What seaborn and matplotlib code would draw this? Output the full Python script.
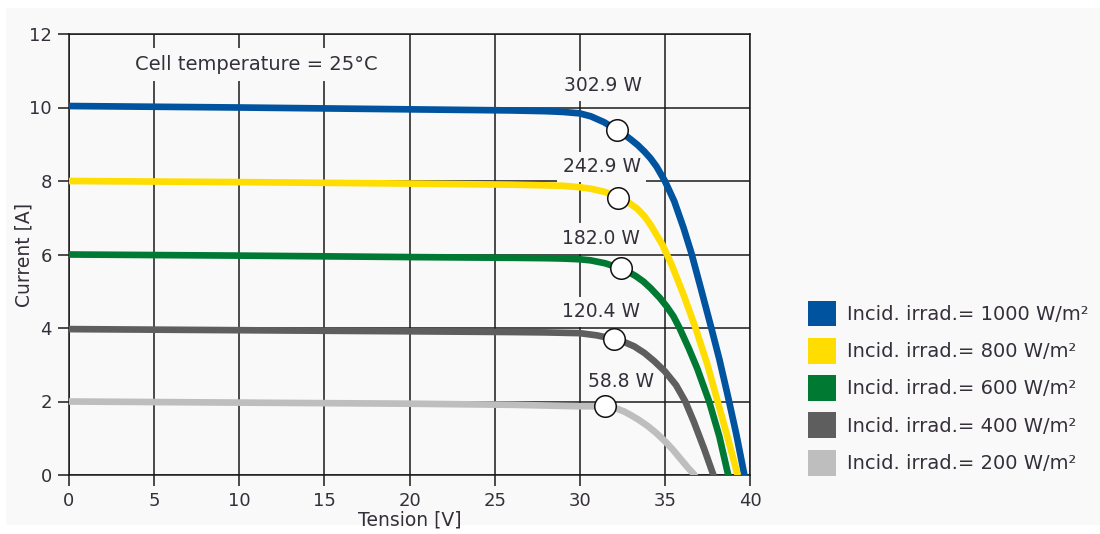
import pandas as pd
import matplotlib
matplotlib.use("Agg")
import matplotlib.pyplot as plt
import seaborn as sns
from matplotlib.patches import Patch, Rectangle

# I-V curves of the module at 25 °C for several irradiance levels
irradiance = ["1000", "800", "600", "400", "200"]
colors = ["#00539f", "#ffdd00", "#007a33", "#5e5e5e", "#bebebe"]

v_1000 = [0, 10, 20, 26, 28, 29, 30, 30.65, 31.43, 32.2, 32.6, 33, 33.4, 33.8, 34.15, 34.5,
          35.0, 35.55, 36.1, 36.55, 37.1, 37.7, 38.2, 38.7, 39.2, 39.67]
i_1000 = [10.04, 10.0, 9.95, 9.92, 9.9, 9.88, 9.84, 9.76, 9.6, 9.38, 9.27, 9.13, 8.98, 8.8, 8.62,
          8.4, 8.0, 7.45, 6.72, 6.05, 5.1, 4.05, 3.15, 2.15, 1.1, 0.0]

v_800 = [0, 10, 20, 26, 28, 29, 30, 30.65, 31.5, 32.27, 32.85, 33.39, 33.8, 34.17, 34.85,
         35.4, 36.1, 36.8, 37.5, 38.1, 38.7, 39.27]
i_800 = [8.0, 7.97, 7.93, 7.9, 7.88, 7.87, 7.83, 7.79, 7.7, 7.54, 7.42, 7.24, 7.04, 6.8, 6.27,
         5.72, 4.9, 4.0, 3.0, 2.0, 1.0, 0.0]

v_600 = [0, 10, 20, 26, 28, 29, 30, 30.65, 31.5, 32.4, 32.85, 33.3, 33.75, 34.17, 34.7, 35.1,
         35.5, 35.86, 36.4, 36.9, 37.6, 38.2, 38.72]
i_600 = [6.0, 5.97, 5.93, 5.91, 5.9, 5.89, 5.87, 5.84, 5.76, 5.62, 5.53, 5.41, 5.26, 5.08, 4.82,
         4.59, 4.32, 4.0, 3.45, 2.9, 2.0, 1.05, 0.0]

v_400 = [0, 10, 20, 26, 28, 29, 30, 31, 32, 32.6, 33.2, 33.8, 34.37, 35.0, 35.65, 36.2,
         36.7, 37.3, 37.85]
i_400 = [3.97, 3.94, 3.91, 3.89, 3.88, 3.87, 3.86, 3.8, 3.7, 3.62, 3.5, 3.32, 3.1, 2.82, 2.45,
         2.0, 1.45, 0.72, 0.0]

v_200 = [0, 10, 20, 26, 28, 29, 30, 31, 31.5, 32.2, 32.6, 33.0, 33.5, 34.0, 34.5, 35.0,
         35.45, 35.9, 36.35, 36.75]
i_200 = [2.0, 1.97, 1.94, 1.91, 1.89, 1.88, 1.87, 1.87, 1.86, 1.8, 1.73, 1.63, 1.49, 1.33,
         1.14, 0.92, 0.7, 0.45, 0.2, 0.0]

# maximum power points
mpp_v = [32.2, 32.27, 32.4, 32.0, 31.5]
mpp_i = [9.38, 7.54, 5.62, 3.70, 1.88]
mpp_label = ["302.9 W", "242.9 W", "182.0 W", "120.4 W", "58.8 W"]

x_ticks = [0, 5, 10, 15, 20, 25, 30, 35, 40]
y_ticks = [0, 2, 4, 6, 8, 10, 12]

curves = [(v_1000, i_1000), (v_800, i_800), (v_600, i_600), (v_400, i_400), (v_200, i_200)]
frames = []
for irr, (v, i) in zip(irradiance, curves):
    frames.append(pd.DataFrame({"V": v, "I": i, "irr": irr}))
df = pd.concat(frames, ignore_index=True)
mpp = pd.DataFrame({"V": mpp_v, "I": mpp_i, "label": mpp_label})

sns.set_theme(style="white")
bg = "#f9f9f9"
txt = "#352f3a"
plt.rcParams["font.family"] = ["DejaVu Sans"]
plt.rcParams["text.color"] = txt
plt.rcParams["axes.labelcolor"] = txt
plt.rcParams["xtick.color"] = txt
plt.rcParams["ytick.color"] = txt

fig = plt.figure(figsize=(11, 5.34), dpi=100, facecolor="white")
fig.patches.append(Rectangle((6 / 1100, 9 / 534), 1 - 6 / 1100, 517 / 534,
                             transform=fig.transFigure, facecolor=bg, edgecolor="none", zorder=-10))
ax = fig.add_axes([69 / 1100, 59 / 534, 681 / 1100, 441 / 534])
ax.set_facecolor(bg)

sns.lineplot(data=df, x="V", y="I", hue="irr", palette=dict(zip(irradiance, colors)),
             sort=False, estimator=None, linewidth=4.8, legend=False, ax=ax, zorder=3,
             solid_joinstyle="round")
sns.scatterplot(data=mpp, x="V", y="I", s=240, color="white", edgecolor="#111111",
                linewidth=1.1, ax=ax, zorder=5, legend=False)

offsets = [(-10, 32), (-12, 22.5), (-14, 21.5), (-9.5, 19.5), (11.5, 17.5)]
for (_, row), off in zip(mpp.iterrows(), offsets):
    ax.annotate(row["label"], (row["V"], row["I"]), xytext=off, textcoords="offset points",
                ha="center", va="center", fontsize=13.5, zorder=2.5,
                bbox=dict(boxstyle="square,pad=0.3", facecolor=bg, edgecolor="none"))

ax.text(11.0, 11.17, "Cell temperature = 25°C", ha="center", va="center", fontsize=14,
        zorder=2.5, bbox=dict(boxstyle="square,pad=0.35", facecolor=bg, edgecolor="none"))

ax.set_xlim(0, 40)
ax.set_ylim(0, 12)
ax.set_xticks(x_ticks)
ax.set_yticks(y_ticks)
ax.grid(True, color="#1a1a1a", linewidth=1.1)
ax.set_axisbelow(True)
for s in ax.spines.values():
    s.set_color("#1a1a1a")
    s.set_linewidth(1.1)
ax.tick_params(axis="both", length=8, width=1.1, color="#1a1a1a", labelsize=13,
               pad=4.5, direction="out", left=True, bottom=True)
ax.set_xlabel("Tension [V]", fontsize=13.5)
ax.set_ylabel("Current [A]", fontsize=13.5)
ax.yaxis.set_label_coords(-0.052, 0.5)
ax.xaxis.set_label_coords(0.5, -0.080)

handles = [Patch(facecolor=c, edgecolor="none") for c in colors]
labels = [f"Incid. irrad.= {irr} W/m²" for irr in irradiance]
fig.legend(handles, labels, loc="upper left", bbox_to_anchor=(808 / 1100, 233.5 / 534),
           frameon=False, fontsize=14, handlelength=1.44, handleheight=1.68,
           handletextpad=0.57, labelspacing=0.58, borderpad=0, borderaxespad=0)

fig.savefig("out.png", dpi=100, facecolor="white")
